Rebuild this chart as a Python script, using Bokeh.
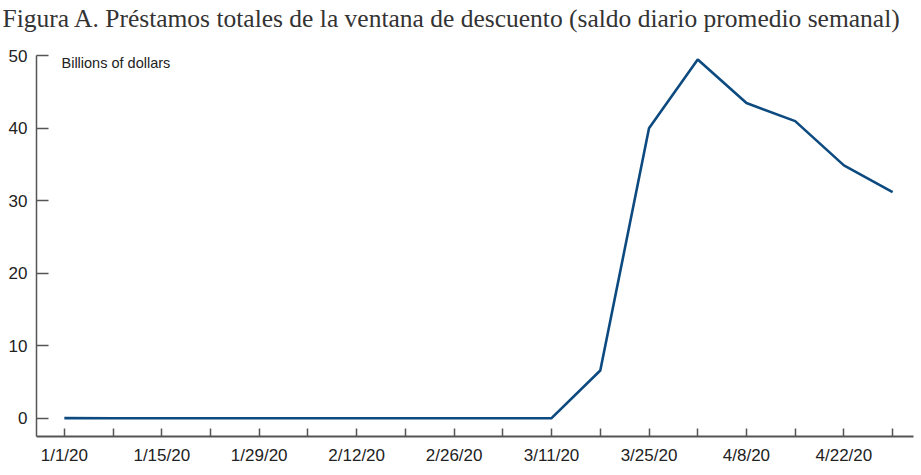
import pandas as pd
from bokeh.plotting import figure
from bokeh.models import FixedTicker, Range1d, Label, Title
from bokeh.embed import file_html
from bokeh.resources import INLINE

# Data (weekly averages, billions of dollars)
dates = ["2020-01-01", "2020-01-08", "2020-01-15", "2020-01-22", "2020-01-29",
         "2020-02-05", "2020-02-12", "2020-02-19", "2020-02-26", "2020-03-04",
         "2020-03-11", "2020-03-18", "2020-03-25", "2020-04-01", "2020-04-08",
         "2020-04-15", "2020-04-22", "2020-04-29"]
values = [0.03, 0.02, 0.02, 0.01, 0.02, 0.02, 0.01, 0.01, 0.02, 0.02,
          0.03, 6.6, 40.0, 49.5, 43.5, 41.0, 34.9, 31.2]
tick_dates = dates
labeled_dates = ["2020-01-01", "2020-01-15", "2020-01-29", "2020-02-12",
                 "2020-02-26", "2020-03-11", "2020-03-25", "2020-04-08", "2020-04-22"]
y_ticks = [0, 10, 20, 30, 40, 50]

title_text = "Figura A. Préstamos totales de la ventana de descuento (saldo diario promedio semanal)"
unit_text = "Billions of dollars"

x = pd.to_datetime(dates)


def ms(d):
    return pd.Timestamp(d).value // 10**6


p = figure(width=919, height=470, x_axis_type="datetime",
           output_backend="svg", toolbar_location=None,
           x_range=Range1d(ms("2019-12-28"), ms("2020-05-02")),
           y_range=Range1d(-2.5, 50.05),
           min_border_left=36, min_border_right=6, min_border_top=55,
           min_border_bottom=34)
p.outline_line_color = None
p.grid.visible = False
p.background_fill_color = "white"

# spacer between the title and the plotting frame
p.add_layout(Title(text=" ", text_font="Liberation Serif", text_font_size="18px",
                   standoff=0), "above")

p.title.text = title_text
p.title.text_font = "Liberation Serif"
p.title.text_font_size = "25.5px"
p.title.text_font_style = "normal"
p.title.text_color = "#333333"
p.title.align = "left"
p.title.offset = -34
p.title.standoff = 2

p.line(x, values, line_color="#0d4a80", line_width=2.6)

sans = "Liberation Sans"

xa = p.xaxis[0]
xa.ticker = FixedTicker(ticks=[ms(d) for d in tick_dates], minor_ticks=[])
xa.major_label_overrides = {ms(d): ("%d/%d/20" % (pd.Timestamp(d).month, pd.Timestamp(d).day)
                                    if d in labeled_dates else "") for d in tick_dates}
xa.major_tick_in = 8
xa.major_tick_out = 0
xa.minor_tick_in = 0
xa.minor_tick_out = 0
xa.axis_line_color = "#555555"
xa.axis_line_width = 2
xa.major_tick_line_color = "#555555"
xa.major_tick_line_width = 1.5
xa.major_label_text_font = sans
xa.major_label_text_font_size = "17px"
xa.major_label_text_color = "#222222"
xa.major_label_standoff = 9

ya = p.yaxis[0]
ya.ticker = FixedTicker(ticks=y_ticks, minor_ticks=[])
ya.major_tick_in = 12
ya.major_tick_out = 0
ya.minor_tick_in = 0
ya.minor_tick_out = 0
ya.axis_line_color = "#555555"
ya.axis_line_width = 1.5
ya.major_tick_line_color = "#555555"
ya.major_tick_line_width = 1.5
ya.major_label_text_font = sans
ya.major_label_text_font_size = "17px"
ya.major_label_text_color = "#222222"
ya.major_label_standoff = 9

p.add_layout(Label(x=25, y=374, x_units="screen", y_units="screen",
                   text=unit_text, text_font=sans, text_font_size="14.5px",
                   text_color="#222222", text_baseline="middle"))

open("out.html", "w").write(file_html(p, INLINE))
